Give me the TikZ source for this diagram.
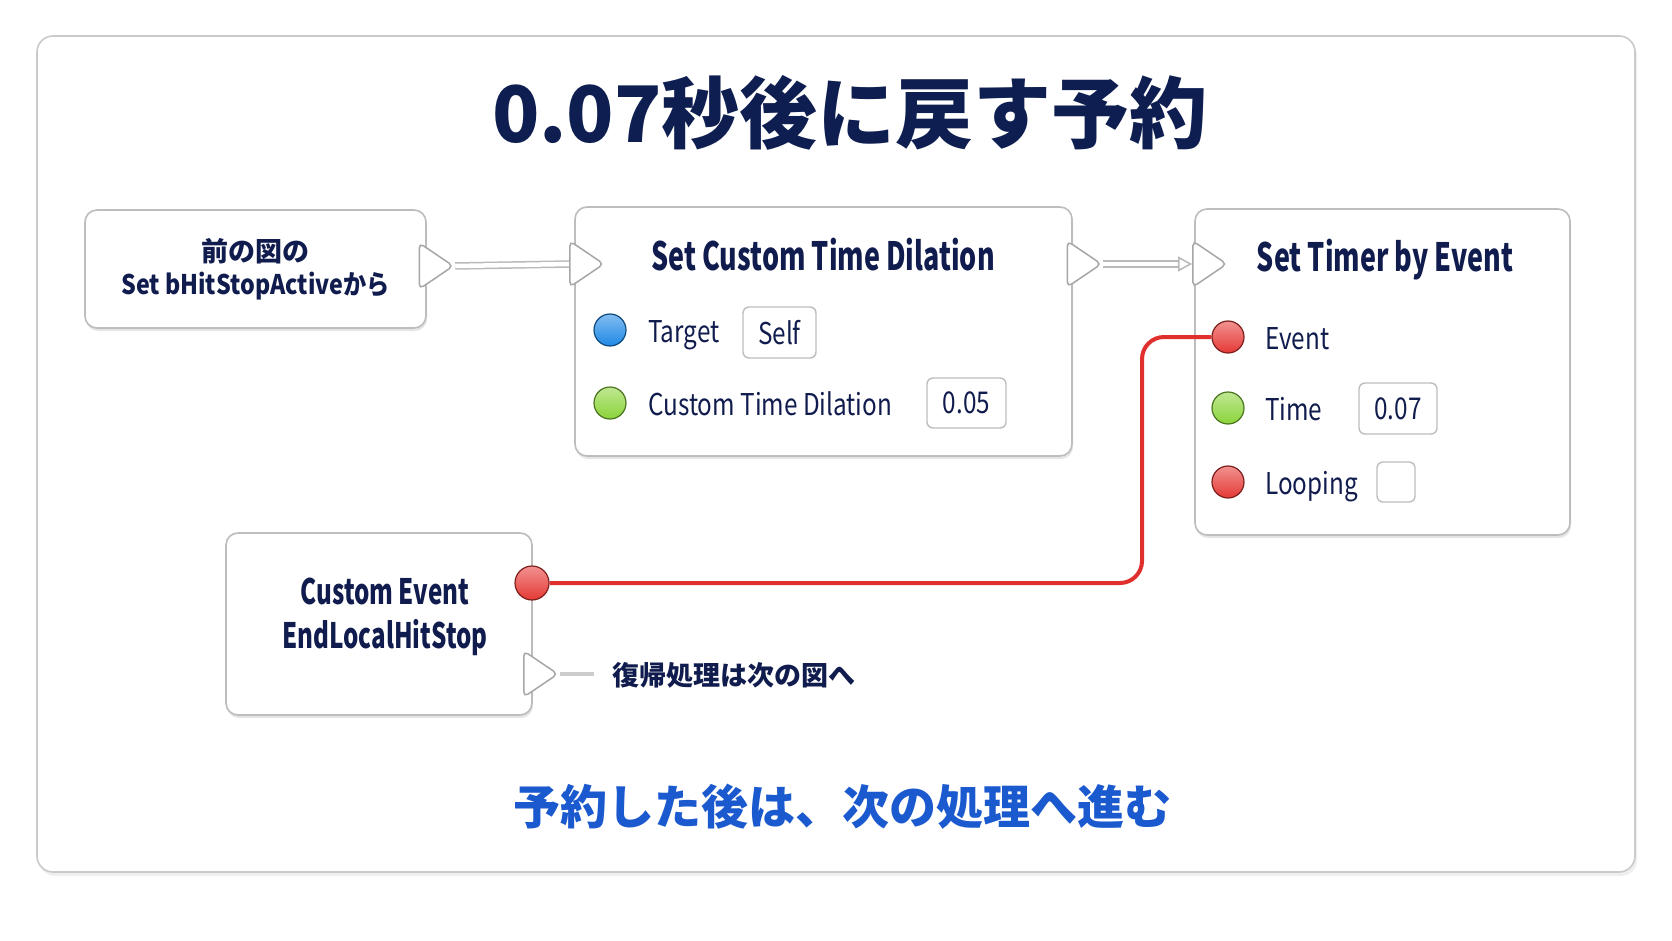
\documentclass[tikz,border=0pt]{standalone}
\usepackage{fontspec}
\newfontfamily\jpfont{Noto Sans CJK JP}
\newfontfamily\condfont[FakeStretch=0.69]{Noto Sans CJK JP}
\newfontfamily\pinfont[FakeStretch=0.81]{Noto Sans CJK JP}
\newfontfamily\prevfont[FakeStretch=0.86]{Noto Sans CJK JP}
\usetikzlibrary{shapes.geometric,shadows,arrows.meta,positioning}

\definecolor{navy}{HTML}{111C4E}
\definecolor{titleblue}{HTML}{0E1E50}
\definecolor{noteblue}{HTML}{1B59CF}
\definecolor{edgegray}{HTML}{BDBDBD}
\definecolor{wirered}{HTML}{E0302E}
\definecolor{pinblue}{HTML}{1E88E5}
\definecolor{pingreen}{HTML}{8BD43A}
\definecolor{pinred}{HTML}{E53935}

\tikzset{
  card/.style={draw=edgegray!80, line width=1.6pt, fill=white, rounded corners=16pt,
    drop shadow={opacity=0.12, shadow xshift=2pt, shadow yshift=-4pt}},
  bpnode/.style={draw=edgegray, line width=1.6pt, fill=white, rounded corners=12pt,
    inner sep=0pt, text=navy, drop shadow={opacity=0.2, shadow xshift=1pt, shadow yshift=-3pt}},
  titletext/.style={text=navy, inner sep=0pt, font=\condfont\bfseries\fontsize{39}{44}\selectfont},
  evtext/.style={text=navy, inner sep=0pt, font=\condfont\bfseries\fontsize{35}{44}\selectfont},
  pinlabel/.style={text=navy, inner sep=0pt, font=\pinfont\fontsize{30}{32}\selectfont},
  valbox/.style={draw=edgegray, line width=1.4pt, fill=white, rounded corners=6pt,
    inner sep=0pt, text=navy, font=\pinfont\fontsize{30}{32}\selectfont},
  pinball/.style={circle, minimum size=32pt, inner sep=0pt, line width=1.2pt,
    draw=#1!55!black, top color=#1!55!white, bottom color=#1},
  execpin/.style={isosceles triangle, isosceles triangle stretches, shape border rotate=0,
    minimum width=46pt, minimum height=34pt, inner sep=0pt, draw=gray!70,
    line width=1.5pt, fill=white, rounded corners=5pt},
  execwire/.style={draw=gray!55, double=white, double distance=4.5pt, line width=1.5pt},
  redwire/.style={draw=wirered, line width=4pt, rounded corners=22pt},
  notetext/.style={text=navy, inner sep=0pt, font=\jpfont\bfseries\fontsize{27}{30}\selectfont}
}

\begin{document}
\begin{tikzpicture}[x=1pt,y=-1pt]
  \useasboundingbox (0,0) rectangle (1672,941);
  \fill[white] (0,0) rectangle (1672,941);

  % Card and heading
  \node[card, minimum width=1598pt, minimum height=836pt] (card) at (836,454) {};
  \node[text=titleblue, font=\jpfont\bfseries\fontsize{78}{80}\selectfont] (heading) at (850,113) {0.07秒後に戻す予約};

  % Blueprint nodes
  \node[bpnode, minimum width=341pt, minimum height=118pt, align=center,
    font=\jpfont\bfseries\fontsize{27}{33.5}\selectfont] (prev) at (255.5,269) {前の図の\\{\prevfont\bfseries Set bHitStopActiveから}};
  \node[bpnode, minimum width=497pt, minimum height=249pt] (dilation) at (823.5,331.5) {};
  \node[bpnode, minimum width=375pt, minimum height=326pt] (timer) at (1382.5,372) {};
  \node[bpnode, minimum width=306pt, minimum height=182pt] (endevt) at (379,624) {};

  % Node titles
  \node[titletext, anchor=base] (dilationtitle) at (823,270) {Set Custom Time Dilation};
  \node[titletext, anchor=base] (timertitle) at (1385,271) {Set Timer by Event};
  \node[evtext, align=center] (endevtname) at (385,617) {Custom Event\\EndLocalHitStop};

  % Exec pins
  \node[execpin] (prevout) at (431.5,266) {};
  \node[execpin] (dilationin) at (582,264) {};
  \node[execpin] (dilationout) at (1079.5,264) {};
  \node[execpin] (timerin) at (1205,264) {};
  \node[execpin] (endevtout) at (536,674) {};

  % Exec wires
  \draw[execwire] (prevout.apex) -- (dilationin.west);
  \draw[execwire, -{Triangle[open, length=14pt, width=15pt]}] (dilationout.apex) -- (timerin.west);
  \coordinate (stubend) at (594,674);
  \draw[gray!40, line width=3.5pt] (endevtout.apex) -- (stubend);
  \node[notetext, anchor=west] (nextnote) at (612,675) {復帰処理は次の図へ};

  % Data pins of Set Custom Time Dilation
  \foreach \i/\y/\col/\lab in {1/330/pinblue/Target, 2/403/pingreen/Custom Time Dilation} {
    \node[pinball=\col] (dilpin\i) at (610,\y) {};
    \node[pinlabel, anchor=base west] (dillab\i) at (648,\y+12) {\lab};
  }
  \node[valbox, minimum width=73pt, minimum height=51pt] (selfval) at (779.5,332.5) {Self};
  \node[valbox, minimum width=79pt, minimum height=50pt] (dilval) at (966.5,403) {0.05};

  % Data pins of Set Timer by Event
  \foreach \i/\y/\col/\lab in {1/337/pinred/Event, 2/408/pingreen/Time, 3/482/pinred/Looping} {
    \node[pinball=\col] (timerpin\i) at (1228,\y) {};
    \node[pinlabel, anchor=base west] (timerlab\i) at (1265,\y+12) {\lab};
  }
  \node[valbox, minimum width=78pt, minimum height=51pt] (timeval) at (1398,408.5) {0.07};
  \node[valbox, minimum width=38pt, minimum height=40pt] (loopval) at (1396,482) {};

  % Event wire
  \node[pinball=pinred, minimum size=34pt] (endevtpin) at (532,583) {};
  \coordinate (wirebend) at (1142,583);
  \draw[redwire] (endevtpin.east) -- (wirebend) |- (timerpin1.west);

  % Summary
  \node[text=noteblue, font=\jpfont\bfseries\fontsize{47}{50}\selectfont] (summary) at (842,807) {予約した後は、次の処理へ進む};
\end{tikzpicture}
\end{document}
